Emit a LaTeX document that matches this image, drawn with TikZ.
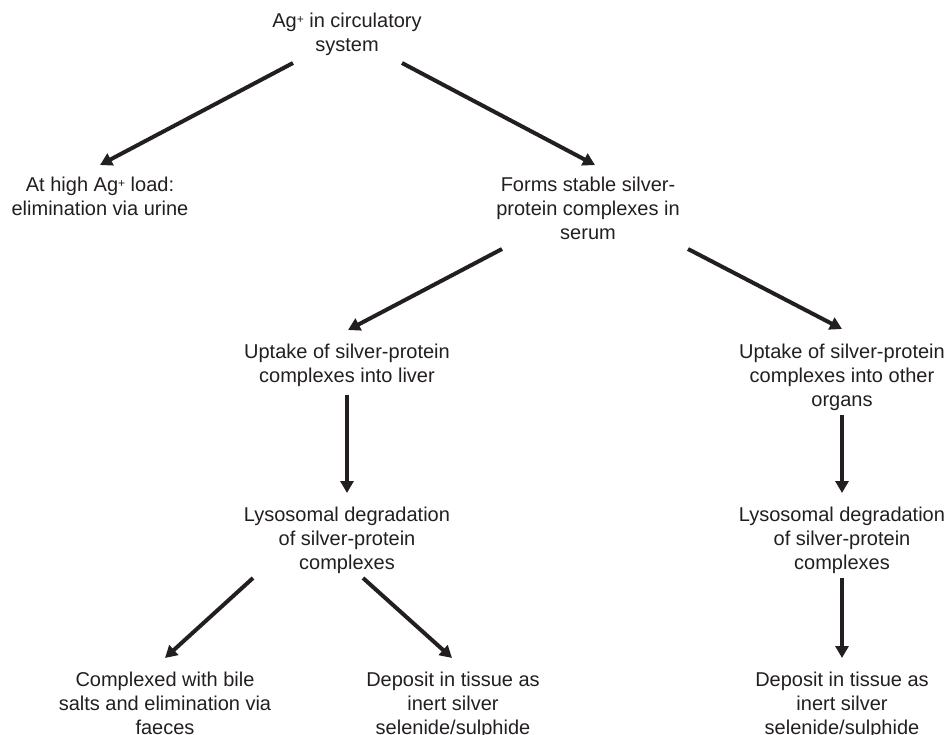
\documentclass[tikz,border=0pt]{standalone}
\usepackage{fontspec}
\setmainfont{Liberation Sans}
\usetikzlibrary{arrows.meta}
\definecolor{ink}{HTML}{231F20}
\newcommand{\agplus}{\raisebox{4.5bp}{\fontsize{12bp}{12bp}\selectfont+}}
\begin{document}
\begin{tikzpicture}[x=1bp,y=-1bp,
  lbl/.style={anchor=north,inner sep=0pt,align=center,text=ink,
    font=\fontsize{20bp}{24bp}\selectfont},
  arr/.style={draw=ink,line width=4bp,-{Triangle[length=12bp,width=13bp]}}]
\useasboundingbox[fill=white] (0,0) rectangle (948,735);
\node[lbl] (top) at (347,13) {Ag\agplus\ in circulatory\\system};
\node[lbl] (left) at (100,177) {At high Ag\agplus\ load:\\elimination via urine};
\node[lbl] (forms) at (588,177) {Forms stable silver-\\protein complexes in\\serum};
\node[lbl] (liver) at (347,344) {Uptake of silver-protein\\complexes into liver};
\node[lbl] (other) at (842,344) {Uptake of silver-protein\\complexes into other\\organs};
\node[lbl] (lysoL) at (347,507) {Lysosomal degradation\\of silver-protein\\complexes};
\node[lbl] (lysoR) at (842,507) {Lysosomal degradation\\of silver-protein\\complexes};
\node[lbl] (compl) at (165,672) {Complexed with bile\\salts and elimination via\\faeces};
\node[lbl] (depM) at (453,672) {Deposit in tissue as\\inert silver\\selenide/sulphide};
\node[lbl] (depR) at (842,672) {Deposit in tissue as\\inert silver\\selenide/sulphide};
\draw[arr] ([shift={(-54,50)}]top.north) -- ([shift={(0,-12)}]left.north);
\draw[arr] ([shift={(55,50)}]top.north) -- ([shift={(7,-12)}]forms.north);
\draw[arr] ([shift={(-86,72)}]forms.north) -- ([shift={(1,-14)}]liver.north);
\draw[arr] ([shift={(100,72)}]forms.north) -- ([shift={(0,-15)}]other.north);
\draw[arr] ([shift={(0,51)}]liver.north) -- ([shift={(0,-14)}]lysoL.north);
\draw[arr] ([shift={(0,71)}]other.north) -- ([shift={(0,-14)}]lysoR.north);
\draw[arr] ([shift={(0,71)}]lysoR.north) -- ([shift={(0,-14)}]depR.north);
\draw[arr] ([shift={(-94,71)}]lysoL.north) -- ([shift={(0,-14)}]compl.north);
\draw[arr] ([shift={(16,71)}]lysoL.north) -- ([shift={(-1,-14)}]depM.north);
\end{tikzpicture}
\end{document}
